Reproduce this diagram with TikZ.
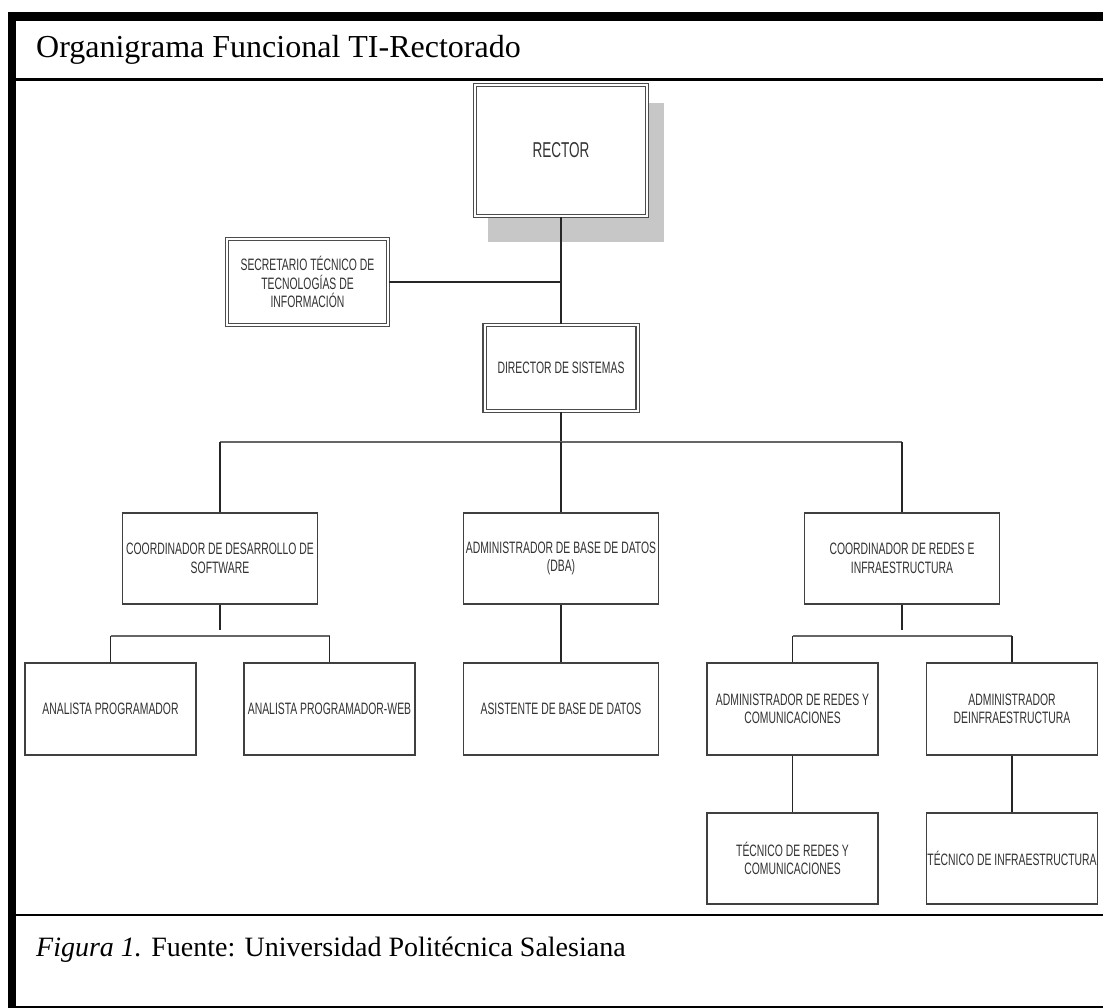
\documentclass[tikz,border=0pt]{standalone}
\usepackage{fontspec}
\setmainfont{Liberation Serif}
\newfontfamily\boxfont{Liberation Sans}[FakeStretch=0.63]
\begin{document}
\begin{tikzpicture}[x=1pt,y=-1pt,
  box/.style={draw=black!75, line width=1.6pt, fill=white, inner sep=0pt,
    align=center, text=black!80,
    font=\boxfont\fontsize{16.5}{18.5}\selectfont},
  dblbox/.style={box, draw=black!70, line width=1.2pt, double=white,
    double distance=2pt},
  conn/.style={line width=1.3pt, black!85},
  bus/.style={line width=2.2pt, black!60},
  frameline/.style={black, line width=#1},
]
\useasboundingbox (0,0) rectangle (1103,1008);
\fill[white] (0,0) rectangle (1103,1008);

% outer frame of the figure
\fill[black] (8,12) rectangle (1103,21);
\fill[black] (8,12) rectangle (16,1008);
\draw[frameline=3pt] (16,80) -- (1103,80);
\draw[frameline=2pt] (16,914.5) -- (1103,914.5);
\draw[frameline=2pt] (16,1006.5) -- (1103,1006.5);

% heading and caption
\node[anchor=base west, inner sep=0pt, font=\fontsize{32}{38}\selectfont]
  (title) at (36,58) {Organigrama Funcional TI-Rectorado};
\node[anchor=base west, inner sep=0pt, font=\fontsize{28}{34}\selectfont]
  (caption) at (36,956) {\textit{Figura 1.} Fuente: Universidad Politécnica Salesiana};

% shadow behind the top box
\fill[black!22] (488,103) rectangle (664,242);

% boxes
\node[dblbox, minimum width=172pt, minimum height=131pt,
  font=\boxfont\fontsize{21.5}{24}\selectfont] (rector) at (561,150.5) {RECTOR};
\node[dblbox, minimum width=161pt, minimum height=86pt] (secr) at (307.5,282)
  {SECRETARIO TÉCNICO DE\\TECNOLOGÍAS DE\\INFORMACIÓN};
\node[dblbox, minimum width=153pt, minimum height=86pt] (dir) at (561,368)
  {DIRECTOR DE SISTEMAS};

\node[box, minimum width=195pt, minimum height=91pt] (coordDes) at (220,558.5)
  {COORDINADOR DE DESARROLLO DE\\SOFTWARE};
\node[box, minimum width=195pt, minimum height=91pt] (admBD) at (561,558.5)
  {ADMINISTRADOR DE BASE DE DATOS\\(DBA)};
\node[box, minimum width=195pt, minimum height=91pt] (coordRed) at (902,558.5)
  {COORDINADOR DE REDES E\\INFRAESTRUCTURA};

\node[box, minimum width=171pt, minimum height=92pt] (anaProg) at (110.5,709)
  {ANALISTA PROGRAMADOR};
\node[box, minimum width=171pt, minimum height=92pt] (anaWeb) at (329.5,709)
  {ANALISTA PROGRAMADOR-WEB};
\node[box, minimum width=195pt, minimum height=92pt] (asist) at (561,709)
  {ASISTENTE DE BASE DE DATOS};
\node[box, minimum width=171pt, minimum height=92pt] (admRed) at (792.5,709)
  {ADMINISTRADOR DE REDES Y\\COMUNICACIONES};
\node[box, minimum width=171pt, minimum height=92pt] (admInf) at (1012,709)
  {ADMINISTRADOR\\DEINFRAESTRUCTURA};

\node[box, minimum width=171pt, minimum height=91pt] (tecRed) at (792.5,858.5)
  {TÉCNICO DE REDES Y\\COMUNICACIONES};
\node[box, minimum width=171pt, minimum height=91pt] (tecInf) at (1012,858.5)
  {TÉCNICO DE INFRAESTRUCTURA};

% connectors
\draw[conn] (rector.south) -- (dir.north);
\draw[conn] (secr.east) -- (secr.east -| rector.south);

\coordinate (busTop) at (561,442);
\draw[conn] (dir.south) -- (busTop);
\draw[bus] (coordDes.north |- busTop) -- (coordRed.north |- busTop);
\draw[conn] (coordDes.north) -- (coordDes.north |- busTop);
\draw[conn] (admBD.north) -- (admBD.north |- busTop);
\draw[conn] (coordRed.north) -- (coordRed.north |- busTop);

\coordinate (busLeft) at (220,636);
\draw[conn] (coordDes.south) -- ++(0,25);
\draw[bus] (anaProg.north |- busLeft) -- (anaWeb.north |- busLeft);
\draw[conn] (anaProg.north) -- (anaProg.north |- busLeft);
\draw[conn] (anaWeb.north) -- (anaWeb.north |- busLeft);

\draw[conn] (admBD.south) -- (asist.north);

\coordinate (busRight) at (902,636);
\draw[conn] (coordRed.south) -- ++(0,25);
\draw[bus] (admRed.north |- busRight) -- (admInf.north |- busRight);
\draw[conn] (admRed.north) -- (admRed.north |- busRight);
\draw[conn] (admInf.north) -- (admInf.north |- busRight);

\draw[conn] (admRed.south) -- (tecRed.north);
\draw[conn] (admInf.south) -- (tecInf.north);
\end{tikzpicture}
\end{document}
